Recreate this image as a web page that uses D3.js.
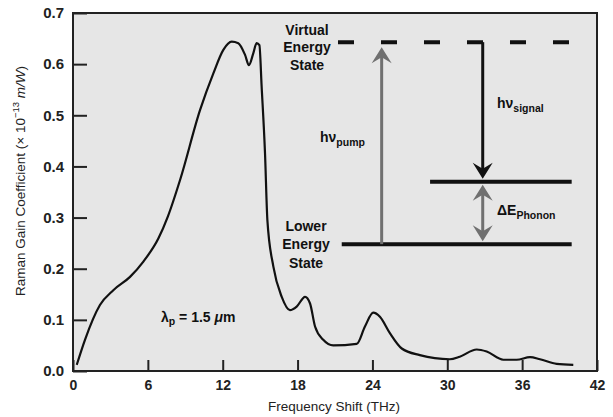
<!DOCTYPE html>
<html><head><meta charset="utf-8">
<script src="https://cdn.jsdelivr.net/npm/d3@7/dist/d3.min.js"></script>
<style>
html,body{margin:0;padding:0;background:#fff;}
svg{display:block;font-family:"Liberation Sans",Arial,Helvetica,sans-serif;}
</style></head>
<body><svg id="c" width="613" height="417"></svg>
<script>
// Frequency shift (THz)
const shift = [0.3,0.96,2.16,3.23,4.57,5.64,6.84,7.6,8.6,10.18,11.25,12.05,12.72,13.25,13.79,14.1,14.45,14.72,14.94,15.12,15.39,15.58,16.06,16.73,17.39,17.93,18.6,19.0,19.4,20.06,20.86,22.74,23.4,24.07,24.6,25.4,26.35,27.8,30.2,31.0,32.36,33.16,34.49,35.56,36.63,37.43,38.77,40.1];
// Raman gain coefficient (x 1e-13 m/W)
const gain = [0.012,0.061,0.129,0.158,0.184,0.214,0.259,0.302,0.375,0.510,0.582,0.628,0.644,0.641,0.618,0.598,0.621,0.641,0.637,0.556,0.426,0.295,0.204,0.145,0.119,0.126,0.145,0.132,0.087,0.061,0.050,0.053,0.087,0.114,0.106,0.074,0.044,0.031,0.023,0.028,0.042,0.038,0.022,0.022,0.027,0.023,0.014,0.012];
const xTicks = [0,6,12,18,24,30,36,42];
const yTicks = [0,0.1,0.2,0.3,0.4,0.5,0.6,0.7];
// Energy level diagram (in chart units)
const levelNames = ["virtual","intermediate","lower"];
const levelY = [0.643,0.370,0.248];
const levelX0 = [21.24,28.62,21.54];
const levelX1 = [40.08,39.97,39.97];
const pumpX = 24.74, signalX = 32.84;

const svg = d3.select("#c");
const x = d3.scaleLinear().domain([0,42]).range([73,597]);
const y = d3.scaleLinear().domain([0,0.7]).range([371,13]);

svg.append("rect").attr("x",73).attr("y",13).attr("width",524).attr("height",358).attr("fill","#e6e6e6");

// axes
const gx = svg.append("g").attr("transform","translate(0,371)")
  .call(d3.axisBottom(x).tickValues(xTicks).tickSizeInner(-11).tickSizeOuter(0).tickPadding(9).tickFormat(d3.format("d")));
gx.select(".domain").remove();
gx.selectAll("line").attr("stroke","#222").attr("stroke-width",2);
gx.selectAll("text").attr("font-size",14).attr("font-weight","bold").attr("fill","#222")
  .attr("font-family","Liberation Sans, Arial, sans-serif");

const gy = svg.append("g").attr("transform","translate(73,0)")
  .call(d3.axisLeft(y).tickValues(yTicks).tickSizeInner(-14).tickSizeOuter(0).tickPadding(9).tickFormat(d3.format(".1f")));
gy.select(".domain").remove();
gy.selectAll("line").attr("stroke","#222").attr("stroke-width",2);
gy.selectAll("text").attr("font-size",15).attr("font-weight","bold").attr("fill","#222")
  .attr("font-family","Liberation Sans, Arial, sans-serif");

// frame
svg.append("rect").attr("x",73).attr("y",13).attr("width",524).attr("height",358)
  .attr("fill","none").attr("stroke","#222").attr("stroke-width",2);

// curve
const pts = shift.map((s,i)=>[s,gain[i]]);
svg.append("path").datum(pts)
  .attr("d", d3.line().x(d=>x(d[0])).y(d=>y(d[1])).curve(d3.curveMonotoneX))
  .attr("fill","none").attr("stroke","#111").attr("stroke-width",2.2).attr("stroke-linejoin","round");

// energy levels
levelNames.forEach((n,i)=>{
  svg.append("line").attr("x1",x(levelX0[i])).attr("x2",x(levelX1[i]))
    .attr("y1",y(levelY[i])).attr("y2",y(levelY[i]))
    .attr("stroke","#111").attr("stroke-width",4)
    .attr("stroke-dasharray", n==="virtual" ? "16,27" : null);
});

function arrowHead(tx, ty, dir, color){ // dir: -1 pointing up, +1 pointing down
  const w=10, h=16, notch=6;
  const p = [[tx,ty],[tx-w,ty-dir*h],[tx,ty-dir*(h-notch)],[tx+w,ty-dir*h]];
  svg.append("path").attr("d","M"+p.map(q=>q.join(",")).join("L")+"Z").attr("fill",color);
}
const grey = "#707070";
// pump arrow
svg.append("line").attr("x1",x(pumpX)).attr("x2",x(pumpX)).attr("y1",y(levelY[2])).attr("y2",y(levelY[0])+14)
  .attr("stroke",grey).attr("stroke-width",3);
arrowHead(x(pumpX), y(levelY[0])+5, -1, grey);
// signal arrow
svg.append("line").attr("x1",x(signalX)).attr("x2",x(signalX)).attr("y1",y(levelY[0])).attr("y2",y(levelY[1])-12)
  .attr("stroke","#111").attr("stroke-width",3);
arrowHead(x(signalX), y(levelY[1])-3, 1, "#111");
// phonon double arrow
svg.append("line").attr("x1",x(signalX)).attr("x2",x(signalX)).attr("y1",y(levelY[1])+12).attr("y2",y(levelY[2])-12)
  .attr("stroke",grey).attr("stroke-width",3);
arrowHead(x(signalX), y(levelY[1])+3, -1, grey);
arrowHead(x(signalX), y(levelY[2])-3, 1, grey);

// labels
const lab = svg.append("g").attr("font-weight","bold").attr("fill","#111").attr("font-size",14);
[["Virtual",35],["Energy",52],["State",70]].forEach(t=>lab.append("text").attr("x",307).attr("y",t[1]).attr("text-anchor","middle").text(t[0]));
[["Lower",231],["Energy",249],["State",268]].forEach(t=>lab.append("text").attr("x",306).attr("y",t[1]).attr("text-anchor","middle").text(t[0]));

function subLabel(px, py, main, sub){
  const t = lab.append("text").attr("x",px).attr("y",py);
  t.append("tspan").text(main);
  t.append("tspan").attr("font-size",10.5).attr("dy",4).text(sub);
}
subLabel(320,142,"hν","pump");
subLabel(497,108,"hν","signal");
subLabel(497,215,"ΔE","Phonon");
const lt = lab.append("text").attr("x",161).attr("y",322).attr("font-size",14);
lt.append("tspan").text("λ");
lt.append("tspan").attr("font-size",10.5).attr("dy",3).text("p");
lt.append("tspan").attr("dy",-3).text(" = 1.5 ");
lt.append("tspan").attr("font-style","italic").text("μ");
lt.append("tspan").text("m");

// axis titles
svg.append("text").attr("x",334).attr("y",411).attr("text-anchor","middle").attr("font-size",13.5).attr("fill","#222")
  .text("Frequency Shift (THz)");
const yt = svg.append("text").attr("transform","translate(25,181) rotate(-90)").attr("text-anchor","middle")
  .attr("font-size",13.5).attr("fill","#222");
yt.append("tspan").text("Raman Gain Coefficient (× 10");
yt.append("tspan").attr("font-size",9.5).attr("dy",-6).text("−13");
yt.append("tspan").attr("dy",6).text(" ");
yt.append("tspan").attr("font-style","italic").text("m/W");
yt.append("tspan").text(")");
</script></body></html>
